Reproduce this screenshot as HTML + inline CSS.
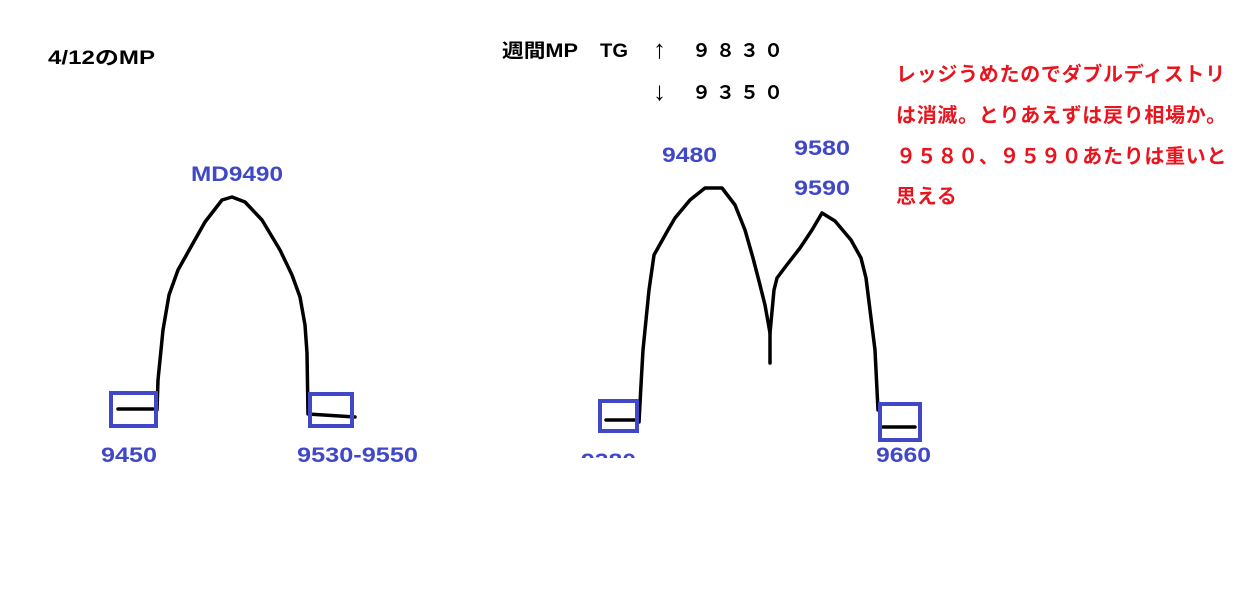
<!DOCTYPE html>
<html><head><meta charset="utf-8"><style>
html,body{margin:0;padding:0;background:#fff;width:1238px;height:604px;overflow:hidden}
svg{display:block}
text{font-family:"Liberation Sans","Noto Sans CJK JP",sans-serif;font-weight:bold}
.b{fill:#4048c8;font-size:21px}
.k{fill:#000;font-size:19px}
.r{fill:#e8141e;font-size:20px;letter-spacing:0.7px}
.a{fill:#000;font-size:26px;font-weight:normal}
</style></head><body>
<svg width="1238" height="604" viewBox="0 0 1238 604">
<defs><clipPath id="c"><rect x="0" y="0" width="1238" height="458"/></clipPath></defs>
<text class="k" x="48" y="64" textLength="107" lengthAdjust="spacingAndGlyphs">4/12のMP</text>
<text class="k" x="502" y="57" textLength="76" lengthAdjust="spacingAndGlyphs">週間MP</text>
<text class="k" x="600" y="57" textLength="28" lengthAdjust="spacingAndGlyphs">TG</text>
<text class="a" x="653" y="58">↑</text>
<text class="k" x="692" y="57" letter-spacing="5">９８３０</text>
<text class="a" x="653" y="100">↓</text>
<text class="k" x="692" y="99" letter-spacing="5">９３５０</text>
<text class="r" x="896" y="81">レッジうめたのでダブルディストリ</text>
<text class="r" x="896" y="122">は消滅。とりあえずは戻り相場か。</text>
<text class="r" x="896" y="163">９５８０、９５９０あたりは重いと</text>
<text class="r" x="896" y="203">思える</text>

<g fill="none" stroke="#000" stroke-width="3.5" stroke-linejoin="round" stroke-linecap="round">
<path d="M157,410 L158,380 L163,330 L169,295 L178,270 L192,245 L205,222 L222,200 L232,197 L245,202 L262,220 L280,250 L292,275 L300,297 L305,325 L307,353 L308,414 L355,417"/>
<path d="M118,409 L153,409"/>
<path d="M639,422 L641,385 L643,350 L649,290 L654,255 L668,230 L675,218 L690,200 L705,188 L722,188 L735,205 L745,230 L753,258 L760,285 L765,305 L770,333 L770,363"/>
<path d="M770,333 L774,290 L777,278 L786,266 L800,248 L812,230 L822,213 L835,221 L851,240 L861,258 L866,278 L870,310 L875,350 L878,410"/>
<path d="M606,420 L636,420"/>
<path d="M882,427 L915,427"/>
</g>
<g fill="none" stroke="#4048c8" stroke-width="4">
<rect x="111" y="393" width="45" height="33"/>
<rect x="310" y="394" width="42" height="32"/>
<rect x="600" y="401" width="37" height="30"/>
<rect x="880" y="404" width="40" height="36"/>
</g>
<text class="b" x="191" y="181" textLength="92" lengthAdjust="spacingAndGlyphs">MD9490</text>
<text class="b" x="101" y="462" textLength="56" lengthAdjust="spacingAndGlyphs">9450</text>
<text class="b" x="297" y="462" textLength="121" lengthAdjust="spacingAndGlyphs">9530-9550</text>
<text class="b" x="662" y="162" textLength="55" lengthAdjust="spacingAndGlyphs">9480</text>
<text class="b" x="794" y="155" textLength="56" lengthAdjust="spacingAndGlyphs">9580</text>
<text class="b" x="794" y="195" textLength="56" lengthAdjust="spacingAndGlyphs">9590</text>
<text class="b" x="581" y="468" clip-path="url(#c)" textLength="55" lengthAdjust="spacingAndGlyphs">9380</text>
<text class="b" x="876" y="462" textLength="55" lengthAdjust="spacingAndGlyphs">9660</text>
</svg>
</body></html>
